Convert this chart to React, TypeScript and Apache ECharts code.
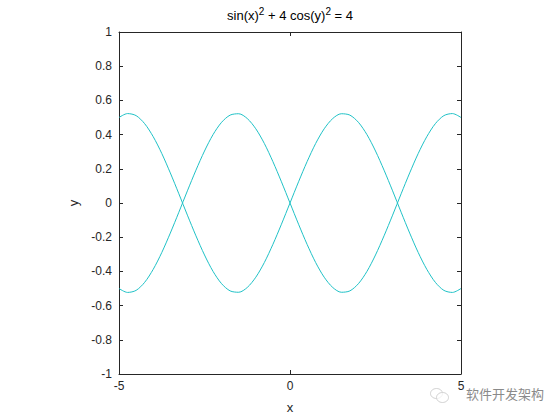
import React, { useEffect, useRef } from "react";
import * as echarts from "echarts";

const xValues = [
  -5, -4.75, -4.5, -4.25, -4, -3.75, -3.5, -3.25, -3, -2.75, -2.5, -2.25, -2, -1.75, -1.5, -1.25, -1, -0.75, -0.5, -0.25,
  0, 0.25, 0.5, 0.75, 1, 1.25, 1.5, 1.75, 2, 2.25, 2.5, 2.75, 3, 3.25, 3.5, 3.75, 4, 4.25, 4.5, 4.75, 5,
];
const branchA = [
  0.5, 0.523, 0.511, 0.464, 0.388, 0.29, 0.176, 0.054, -0.071, -0.192, -0.304, -0.4, -0.472, -0.514, -0.522, -0.494, -0.434, -0.348, -0.242, -0.124,
  0, 0.124, 0.242, 0.348, 0.434, 0.494, 0.522, 0.514, 0.472, 0.4, 0.304, 0.192, 0.071, -0.054, -0.176, -0.29, -0.388, -0.464, -0.511, -0.523, -0.5,
];
const branchB = [
  -0.5, -0.523, -0.511, -0.464, -0.388, -0.29, -0.176, -0.054, 0.071, 0.192, 0.304, 0.4, 0.472, 0.514, 0.522, 0.494, 0.434, 0.348, 0.242, 0.124,
  0, -0.124, -0.242, -0.348, -0.434, -0.494, -0.522, -0.514, -0.472, -0.4, -0.304, -0.192, -0.071, 0.054, 0.176, 0.29, 0.388, 0.464, 0.511, 0.523, 0.5,
];
const xTicks = { min: -5, max: 5, interval: 5 };
const yTicks = { min: -1, max: 1, interval: 0.2 };

const FONT = "'Liberation Sans', Arial, Helvetica, sans-serif";
const LINE_COLOR = "#1fc1c6";
const AXIS_COLOR = "#262626";

export default function App() {
  const ref = useRef<HTMLDivElement>(null);
  useEffect(() => {
    if (!ref.current) return;
    const chart = echarts.init(ref.current, null, { renderer: "svg" });
    const axisLine = { show: true, onZero: false, lineStyle: { color: AXIS_COLOR, width: 1 } };
    const tick = { show: true, inside: true, length: 4, lineStyle: { color: AXIS_COLOR } };
    const label = { color: AXIS_COLOR, fontSize: 12, fontFamily: FONT };
    chart.setOption({
      animation: false,
      backgroundColor: "#ffffff",
      title: {
        text: "{n|sin(x)}{s|2}{n| + 4 cos(y)}{s|2}{n| = 4}",
        left: 290,
        top: 6,
        padding: 0,
        textAlign: "center",
        textStyle: {
          fontWeight: "normal",
          rich: {
            n: { fontSize: 13, fontFamily: FONT, color: "#000", fontWeight: "normal", verticalAlign: "bottom", lineHeight: 16 },
            s: { fontSize: 10, fontFamily: FONT, color: "#000", fontWeight: "normal", verticalAlign: "top", lineHeight: 16 },
          },
        },
      },
      grid: { left: 119, right: 99, top: 32, bottom: 46 },
      xAxis: [
        {
          type: "value",
          min: xTicks.min,
          max: xTicks.max,
          interval: xTicks.interval,
          position: "bottom",
          axisLine,
          axisTick: tick,
          axisLabel: { ...label, margin: 6 },
          splitLine: { show: false },
          name: "x",
          nameLocation: "middle",
          nameGap: 27,
          nameTextStyle: { color: AXIS_COLOR, fontSize: 13, fontFamily: FONT },
        },
        {
          type: "value",
          min: xTicks.min,
          max: xTicks.max,
          interval: xTicks.interval,
          position: "top",
          axisLine,
          axisTick: tick,
          axisLabel: { show: false },
          splitLine: { show: false },
        },
      ],
      yAxis: [
        {
          type: "value",
          min: yTicks.min,
          max: yTicks.max,
          interval: yTicks.interval,
          position: "left",
          axisLine,
          axisTick: tick,
          axisLabel: { ...label, margin: 7 },
          splitLine: { show: false },
          name: "y",
          nameLocation: "middle",
          nameGap: 38,
          nameTextStyle: { color: AXIS_COLOR, fontSize: 13, fontFamily: FONT },
        },
        {
          type: "value",
          min: yTicks.min,
          max: yTicks.max,
          interval: yTicks.interval,
          position: "right",
          axisLine,
          axisTick: tick,
          axisLabel: { show: false },
          splitLine: { show: false },
        },
      ],
      series: [
        {
          type: "line",
          data: xValues.map((x, i) => [x, branchA[i]]),
          smooth: 0.3,
          showSymbol: false,
          lineStyle: { color: LINE_COLOR, width: 1 },
          clip: true,
        },
        {
          type: "line",
          data: xValues.map((x, i) => [x, branchB[i]]),
          smooth: 0.3,
          showSymbol: false,
          lineStyle: { color: LINE_COLOR, width: 1 },
          clip: true,
        },
      ],
      graphic: [
        {
          type: "group",
          left: 430,
          top: 388,
          children: [
            { type: "ellipse", shape: { cx: 7, cy: 6, rx: 6, ry: 5 }, style: { fill: "rgba(255,255,255,0.6)", stroke: "#cfcfcf", lineWidth: 1 } },
            { type: "ellipse", shape: { cx: 13, cy: 10, rx: 6, ry: 5 }, style: { fill: "rgba(255,255,255,0.7)", stroke: "#cfcfcf", lineWidth: 1 } },
          ],
        },
        {
          type: "text",
          left: 466,
          top: 387,
          style: {
            text: "软件开发架构",
            fontSize: 13,
            fontFamily: "'Noto Sans CJK SC', sans-serif",
            fill: "#8a8a8a",
          },
        },
      ],
    });
    return () => chart.dispose();
  }, []);
  return <div ref={ref} style={{ position: "absolute", left: 0, top: 0, width: 560, height: 420 }} />;
}
